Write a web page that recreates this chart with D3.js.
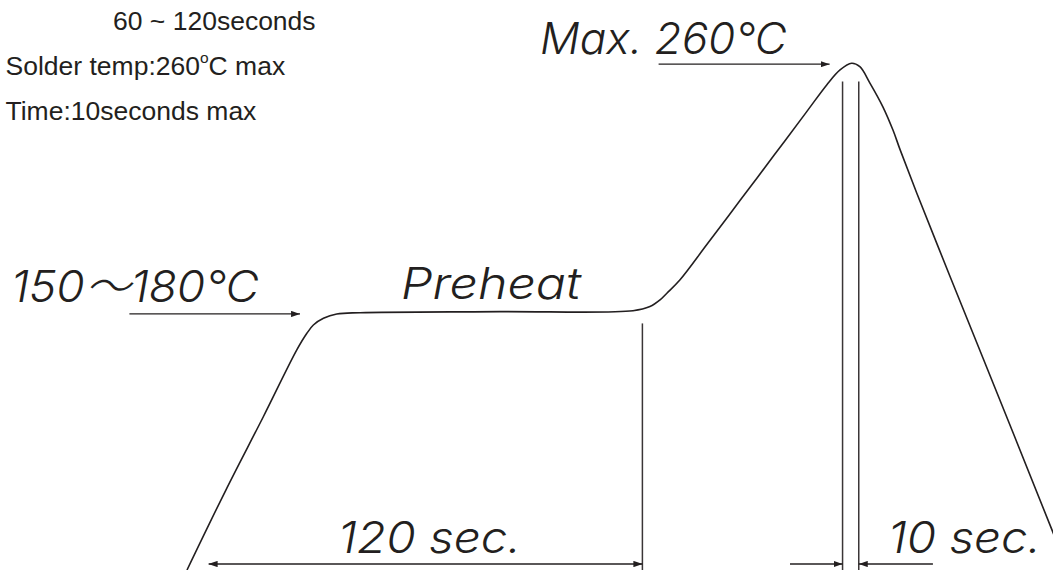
<!DOCTYPE html>
<html><head><meta charset="utf-8">
<script src="https://cdn.jsdelivr.net/npm/d3@7"></script>
<style>html,body{margin:0;padding:0;background:#fff;overflow:hidden;} svg{display:block;}</style>
</head><body>
<svg id="chart" width="1053" height="570"></svg>
<script>
// Reflow soldering profile: time (s) vs temperature (°C)
const profileTime = [0, 10.8, 21.2, 30.5, 33.3, 35.1, 37.9, 41.6, 48.1, 86.9, 123.9, 128.6, 131.4, 133.3, 136.9, 144.4, 153.6, 162.9, 172.1, 177.7, 181.4, 184.6, 186.9, 189.7, 193.3, 196.1, 198.1, 202.7, 211.9, 221.1, 240.6, 243];
const profileTemp = [40, 74.7, 106.5, 135.5, 142.7, 146.3, 149.2, 151.1, 151.65, 152.1, 152.5, 154.3, 157.2, 160.1, 165.8, 181.2, 200.3, 219.6, 238.8, 250.5, 257.0, 259.9, 258.4, 251.3, 241.0, 230.9, 222.3, 203.6, 167.6, 132.0, 56.1, 46.5];

// Marker lines: [time, top temperature]
const preheatEndLine = [126.5, 147];
const peakWindowLines = [[182.1, 252], [186.6, 252]];

// Dimension arrows: [fromTime, toTime, temperature]
const arrowPreheatSpan = [6, 126.5, 42.6];          // 120 sec (double headed)
const arrowPeakLeft = [167.5, 182.1, 42.6];         // 10 sec, left
const arrowPeakRight = [207.2, 186.6, 42.6];        // 10 sec, right
const arrowMaxTemp = [131, 178.5, 259.5];           // Max. 260℃
const arrowPreheatTemp = [-16, 31.4, 151.1];        // 150~180℃

// Texts
const noteLines = ["60 ~ 120seconds", "Solder temp:260", "Time:10seconds max"];
const labelMax = "Max. 260℃";
const labelPreheatTemp = "150～180℃";
const labelPreheat = "Preheat";
const labelPreheatTime = "120 sec.";
const labelPeakTime = "10 sec.";

const W = 1053, H = 570;
const ink = "#231f20";
const svg = d3.select("#chart");

const x = d3.scaleLinear().domain([0, 240]).range([187, 1051]);
const y = d3.scaleLinear().domain([40, 260]).range([570, 63]);

const defs = svg.append("defs");
defs.append("marker").attr("id", "ah")
  .attr("viewBox", "0 0 10 7").attr("markerUnits", "userSpaceOnUse")
  .attr("markerWidth", 9).attr("markerHeight", 6.5)
  .attr("refX", 10).attr("refY", 3.5).attr("orient", "auto-start-reverse")
  .append("path").attr("d", "M0,0L10,3.5L0,7Z").attr("fill", ink);

// profile curve
const pts = profileTime.map((t, i) => [t, profileTemp[i]]);
svg.append("path")
  .datum(pts)
  .attr("fill", "none").attr("stroke", ink).attr("stroke-width", 1.6)
  .attr("d", d3.line().x(d => x(d[0])).y(d => y(d[1])).curve(d3.curveCatmullRom.alpha(0.5)));

// vertical marker lines
const vlines = [preheatEndLine, ...peakWindowLines];
svg.selectAll("line.v").data(vlines).enter().append("line")
  .attr("class", "v")
  .attr("x1", d => x(d[0])).attr("x2", d => x(d[0]))
  .attr("y1", d => y(d[1])).attr("y2", H + 2)
  .attr("stroke", "#3a3536").attr("stroke-width", 1.5);

// arrows
function arrow(a, both) {
  const l = svg.append("line")
    .attr("x1", x(a[0])).attr("x2", x(a[1]))
    .attr("y1", y(a[2])).attr("y2", y(a[2]))
    .attr("stroke", ink).attr("stroke-width", 1.3)
    .attr("marker-end", "url(#ah)");
  if (both) l.attr("marker-start", "url(#ah)");
}
arrow(arrowPreheatSpan, true);
arrow(arrowPeakLeft, false);
arrow(arrowPeakRight, false);
arrow(arrowMaxTemp, false);
arrow(arrowPreheatTemp, false);

// notes top-left
const noteFont = "'Liberation Sans', Arial, sans-serif";
const notes = svg.append("g").attr("font-family", noteFont).attr("font-size", 26.5).attr("fill", ink);
notes.append("text").attr("x", 113).attr("y", 29.5).text(noteLines[0]);
const t2 = notes.append("text").attr("x", 5.5).attr("y", 75);
t2.append("tspan").text(noteLines[1]);
t2.append("tspan").attr("font-size", 15.5).attr("dy", -12.5).text("o");
t2.append("tspan").attr("dy", 12.5).text("C max");
notes.append("text").attr("x", 5.5).attr("y", 120).text(noteLines[2]);

// big italic labels
const bigFont = "Inter, 'Liberation Sans', 'Noto Sans CJK SC', sans-serif";
function big(txt, x0, yb, w) {
  svg.append("text")
    .attr("x", x0).attr("y", yb)
    .attr("font-family", bigFont).attr("font-style", "italic")
    .attr("font-weight", 300)
    .attr("font-size", 44).attr("fill", ink)
    .attr("textLength", w).attr("lengthAdjust", "spacingAndGlyphs")
    .text(txt);
}
big(labelMax, 540, 53.5, 247);
big(labelPreheatTemp, 11, 301.5, 248);
big(labelPreheat, 401, 298.5, 180);
big(labelPreheatTime, 338, 553, 183);
big(labelPeakTime, 888, 553, 153);
</script>
</body></html>
